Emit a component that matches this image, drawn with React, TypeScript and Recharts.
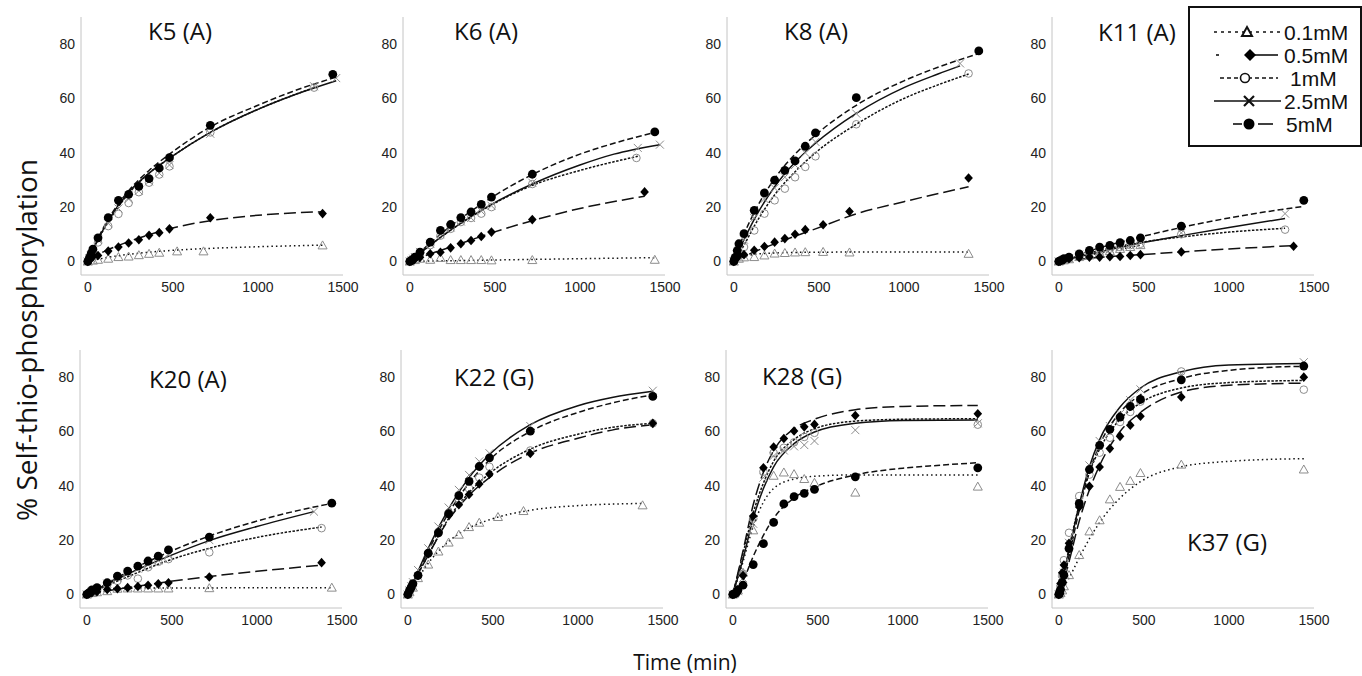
import React from 'react';
import { ComposedChart, Line, Scatter, XAxis, YAxis } from 'recharts';

type Pt = [number, number];

// order of series everywhere: 0.1mM, 0.5mM, 1mM, 2.5mM, 5mM
const CONCS = ['0.1mM', '0.5mM', '1mM', '2.5mM', '5mM'];
const X_TICKS = [0, 500, 1000, 1500];
const Y_TICKS = [0, 20, 40, 60, 80];

// ---- K5 (A)
const K5_PTS: Pt[][] = [
  [[0, 0], [30, 0.3], [60, 0.6], [120, 1], [180, 1.6], [240, 1.8], [300, 2.3], [360, 2.8], [420, 3.2], [525, 3.7], [680, 3.7], [1380, 5.9]],
  [[0, 0], [10, 0.6], [20, 1.2], [30, 1.8], [60, 2.2], [120, 3.8], [180, 5.3], [240, 6.8], [300, 8.0], [360, 9.6], [420, 10.6], [480, 12.0], [720, 16.1], [1380, 17.6]],
  [[0, 0], [10, 1], [20, 2], [30, 3], [60, 7], [120, 13], [180, 17.5], [240, 21.5], [300, 25.5], [360, 29], [420, 32], [480, 35], [720, 47.5], [1330, 64]],
  [[0, 0], [10, 1.2], [20, 2.2], [30, 3.5], [60, 8], [120, 14], [180, 19.5], [240, 23], [300, 26], [360, 29.5], [420, 32.5], [480, 35.5], [720, 47], [1330, 64.5], [1460, 67.5]],
  [[0, 0], [10, 1.5], [20, 3], [30, 4.5], [60, 8.7], [120, 16.1], [180, 22.5], [240, 24.7], [300, 27.6], [360, 30.5], [420, 34.4], [480, 38.2], [720, 50.1], [1440, 68.9]],
];
const K5_FIT: Pt[][] = [
  [[0, 0], [60, 0.8], [120, 1.5], [240, 2.6], [360, 3.4], [480, 4], [720, 4.8], [1000, 5.4], [1380, 6]],
  [[0, 0], [60, 2.5], [120, 4.3], [240, 7.3], [360, 9.8], [480, 12], [720, 15], [1000, 17], [1380, 18.3]],
  [[0, 0], [60, 8], [120, 14.5], [240, 25], [360, 32.5], [480, 38], [720, 47.5], [1000, 56], [1330, 64]],
  [[0, 0], [60, 8], [120, 15], [240, 25.5], [360, 32.5], [480, 38], [720, 47.5], [1000, 56], [1200, 61], [1460, 66.5]],
  [[0, 0], [60, 8.5], [120, 15.5], [240, 26], [360, 33.5], [480, 39.5], [720, 49.5], [1000, 57.5], [1200, 62.5], [1440, 67.5]],
];

// ---- K6 (A)
const K6_PTS: Pt[][] = [
  [[0, 0], [30, 0.5], [60, 1], [120, 0.6], [180, 1.3], [240, 0.5], [300, 0.5], [360, 0.5], [420, 0.5], [480, 0.4], [720, 0.5], [1440, 0.6]],
  [[0, 0], [10, 0.3], [20, 0.6], [30, 1], [60, 1.5], [120, 2.8], [180, 3.4], [240, 5.0], [300, 6.5], [360, 7.7], [420, 9.2], [480, 10.8], [720, 15.4], [1380, 25.6]],
  [[0, 0], [10, 0.5], [20, 1], [30, 1.5], [60, 3], [120, 6], [180, 9.5], [240, 12], [300, 14.5], [360, 16], [420, 17.6], [480, 20], [720, 28.5], [1332, 38.1]],
  [[0, 0], [10, 0.5], [20, 1], [30, 1.6], [60, 3.5], [120, 6.5], [180, 10], [240, 12.5], [300, 14.7], [360, 16], [420, 18.5], [480, 20.5], [720, 29], [1340, 41.8], [1470, 43]],
  [[0, 0], [10, 0.4], [16, 0.6], [30, 1.6], [60, 3.4], [120, 7.1], [180, 11.4], [240, 13.6], [300, 16.1], [360, 18.2], [420, 21], [480, 23.7], [720, 32.1], [1440, 47.7]],
];
const K6_FIT: Pt[][] = [
  [[0, 0], [480, 0.5], [1000, 1], [1440, 1.4]],
  [[0, 0], [120, 2.8], [240, 5.3], [480, 10.5], [720, 15], [1000, 19.5], [1380, 24]],
  [[0, 0], [120, 6], [240, 11.5], [480, 20.8], [720, 28], [1000, 33.5], [1340, 38.7]],
  [[0, 0], [120, 6], [240, 11.5], [360, 16.5], [480, 21], [720, 28.5], [1000, 35.5], [1200, 39.5], [1470, 43]],
  [[0, 0], [120, 6.8], [240, 13], [360, 18.5], [480, 23.5], [720, 32], [1000, 39.5], [1200, 43.5], [1440, 47.5]],
];

// ---- K8 (A)
const K8_PTS: Pt[][] = [
  [[0, 0], [30, 1], [60, 1.5], [120, 1.6], [180, 2.2], [240, 2.9], [300, 3.1], [360, 3.3], [420, 3.4], [525, 3.5], [680, 3.3], [1380, 2.8]],
  [[0, 0], [10, 0.8], [20, 1.5], [30, 2.2], [60, 2.5], [120, 4.1], [180, 5.5], [240, 7.1], [300, 8.4], [360, 10], [420, 11.7], [525, 13.5], [680, 18.4], [1380, 30.7]],
  [[0, 0], [10, 1], [20, 2], [30, 3], [60, 5.3], [120, 11.4], [180, 17.6], [240, 22.5], [300, 26.8], [360, 31], [420, 34.8], [480, 38.7], [720, 50.5], [1380, 69.2]],
  [[0, 0], [10, 1.2], [20, 2.5], [30, 4], [60, 8], [120, 16], [180, 23], [240, 27], [300, 31], [360, 35.5], [420, 40], [480, 44], [720, 54.4], [1330, 72.9]],
  [[0, 0], [5, 1], [10, 1.6], [20, 4], [30, 6.5], [60, 10.2], [120, 18.8], [180, 25.2], [240, 29.9], [300, 33.5], [360, 37], [420, 42.4], [480, 47.3], [720, 60.3], [1440, 77.5]],
];
const K8_FIT: Pt[][] = [
  [[0, 0], [60, 1.8], [120, 2.6], [240, 3.1], [480, 3.4], [1380, 3.5]],
  [[0, 0], [120, 3.5], [240, 6.5], [480, 12], [720, 17.5], [1000, 22], [1380, 27.5]],
  [[0, 0], [60, 6], [120, 13], [240, 24.5], [360, 33], [480, 40], [720, 50.5], [1000, 60], [1200, 65], [1380, 69]],
  [[0, 0], [60, 8], [120, 15.5], [240, 27.5], [360, 36.5], [480, 43.5], [720, 54.5], [1000, 64], [1200, 69], [1330, 72]],
  [[0, 0], [60, 10], [120, 18], [240, 30.5], [360, 39.5], [480, 46.5], [720, 57.5], [1000, 66.5], [1200, 71.5], [1440, 76.5]],
];

// ---- K11 (A)
const K11_PTS: Pt[][] = [
  [[0, 0], [30, 0.4], [60, 0.8], [120, 1.6], [180, 2.2], [240, 3], [300, 3.8], [360, 4.6], [420, 5.3], [480, 6]],
  [[0, 0], [10, 0.2], [30, 0.5], [60, 1], [120, 1.4], [180, 1.6], [240, 1.6], [300, 1.7], [360, 1.8], [420, 2.2], [480, 2.5], [720, 3.5], [1380, 5.6]],
  [[0, 0], [30, 0.5], [60, 1], [120, 2], [180, 3], [240, 3.8], [300, 4.7], [360, 5.3], [420, 6], [480, 6.5], [720, 10], [1330, 11.7]],
  [[0, 0], [30, 0.6], [60, 1.2], [120, 2.5], [180, 3], [240, 4], [300, 4.6], [360, 5.5], [420, 6], [480, 7], [720, 10.5], [1330, 17.6]],
  [[0, 0], [10, 0.3], [20, 0.6], [30, 1], [60, 1.6], [120, 2.8], [180, 4.1], [240, 5.3], [300, 5.9], [360, 6.9], [420, 7.7], [480, 8.7], [720, 13], [1440, 22.5]],
];
const K11_FIT: Pt[][] = [
  [[0, 0], [120, 1.5], [240, 3], [360, 4.5], [480, 6]],
  [[0, 0], [240, 1.5], [480, 2.5], [720, 3.5], [1000, 4.6], [1380, 5.8]],
  [[0, 0], [240, 4], [480, 7], [720, 9], [1000, 10.8], [1330, 12.2]],
  [[0, 0], [240, 3.5], [480, 6.8], [720, 9.5], [1000, 12.5], [1330, 15.8]],
  [[0, 0], [240, 5], [480, 9], [720, 12.5], [1000, 16], [1440, 20.3]],
];

// ---- K20 (A)
const K20_PTS: Pt[][] = [
  [[0, 0], [30, 0.5], [60, 0.8], [120, 1.2], [180, 2.1], [240, 2.2], [300, 2.2], [360, 2.2], [420, 2.2], [480, 2.2], [720, 2.3], [1440, 2.5]],
  [[0, 0], [10, 0.3], [30, 0.6], [60, 1], [120, 1.8], [180, 2.1], [240, 2.5], [300, 2.9], [360, 3.4], [420, 3.9], [480, 4.3], [720, 6.4], [1380, 11.7]],
  [[0, 0], [30, 1], [60, 1.8], [120, 3.5], [180, 5], [240, 7], [300, 5.8], [360, 10], [420, 12], [480, 13], [720, 15.5], [1380, 24.4]],
  [[0, 0], [30, 1], [60, 2], [120, 4], [180, 6], [240, 8], [300, 9.5], [360, 11], [420, 12.5], [480, 14.5], [720, 20], [1335, 30.5]],
  [[0, 0], [10, 0.5], [20, 0.9], [30, 1.7], [60, 2.5], [120, 4.3], [180, 6.7], [240, 8.6], [300, 10.4], [360, 12.3], [420, 14.1], [480, 16.4], [720, 21.1], [1440, 33.6]],
];
const K20_FIT: Pt[][] = [
  [[0, 0], [60, 1.3], [120, 2], [240, 2.3], [720, 2.4], [1440, 2.5]],
  [[0, 0], [240, 2.5], [480, 4.7], [720, 6.6], [1000, 8.5], [1380, 10.8]],
  [[0, 0], [240, 6.5], [480, 12.5], [720, 17], [1000, 21], [1380, 24.8]],
  [[0, 0], [240, 7.5], [480, 14], [720, 19.8], [1000, 25], [1335, 30.5]],
  [[0, 0], [120, 4], [240, 8.3], [480, 15.5], [720, 21.5], [1000, 27], [1200, 30.3], [1440, 33.5]],
];

// ---- K22 (G)
const K22_PTS: Pt[][] = [
  [[0, 0], [10, 0.8], [30, 2.5], [60, 6], [120, 11], [180, 15.8], [240, 19.1], [300, 22], [360, 24.8], [420, 26.4], [530, 28.5], [680, 30.7], [1380, 32.8]],
  [[0, 0], [10, 1], [20, 2], [30, 3.5], [60, 7], [120, 15], [180, 23], [240, 29.5], [300, 33], [360, 36.8], [420, 40.7], [480, 44.3], [720, 51.9], [1440, 63]],
  [[0, 0], [10, 1], [20, 2.2], [30, 3.5], [60, 7], [120, 15], [180, 23], [240, 30], [300, 34], [360, 39], [420, 43], [480, 47], [720, 53], [1440, 63]],
  [[0, 0], [10, 1.5], [20, 3], [30, 4.5], [60, 9], [120, 17], [180, 25], [240, 32], [300, 38.5], [360, 44], [420, 49], [480, 52], [720, 62], [1440, 75]],
  [[0, 0], [10, 1.5], [20, 2.7], [30, 4], [60, 7], [120, 15.2], [180, 22.7], [240, 29.7], [300, 36.4], [360, 41.6], [420, 47.1], [480, 50.3], [720, 60.1], [1440, 72.9]],
];
const K22_FIT: Pt[][] = [
  [[0, 0], [60, 6], [120, 11.5], [240, 19.5], [360, 24.5], [480, 27.5], [720, 31], [1000, 32.7], [1380, 33.5]],
  [[0, 0], [60, 7.5], [120, 14.5], [240, 27.5], [360, 36.5], [480, 43], [720, 52], [1000, 57.5], [1200, 60.5], [1440, 62.5]],
  [[0, 0], [60, 7.5], [120, 14.5], [240, 28], [360, 37.5], [480, 44.5], [720, 53.5], [1000, 59], [1200, 61.5], [1440, 63]],
  [[0, 0], [60, 8.5], [120, 17], [240, 31.5], [360, 43], [480, 51.5], [720, 62.5], [1000, 69.5], [1200, 72.5], [1440, 74.8]],
  [[0, 0], [60, 8], [120, 16], [240, 30], [360, 41], [480, 49.5], [720, 60], [1000, 67], [1200, 70.5], [1440, 73.5]],
];

// ---- K28 (G)
const K28_PTS: Pt[][] = [
  [[0, 0], [10, 0.5], [30, 1.5], [60, 8], [120, 23.6], [240, 43.7], [300, 44.9], [360, 44.3], [420, 42.5], [480, 41.1], [720, 37.5], [1440, 39.7]],
  [[0, 0], [10, 0.3], [20, 0.8], [30, 1.8], [60, 7], [120, 28.9], [180, 46.6], [240, 54.3], [300, 57.4], [360, 60.2], [420, 61.7], [480, 62.6], [720, 65.9], [1440, 66.5]],
  [[0, 0], [10, 0.3], [20, 0.7], [30, 1.5], [60, 7.6], [120, 28], [180, 45.2], [240, 52.1], [300, 54], [360, 56], [420, 58], [480, 59.5], [1440, 62.5]],
  [[0, 0], [10, 0.2], [30, 1.2], [60, 6], [120, 26], [180, 43], [240, 51], [300, 53], [360, 54.5], [420, 55], [480, 56.5], [720, 60.5], [1440, 63]],
  [[0, 0], [10, 0.2], [20, 0.6], [30, 1.6], [60, 3.4], [120, 11], [180, 18.7], [240, 26.5], [300, 33.3], [360, 36], [420, 37.2], [480, 38.7], [720, 43.3], [1440, 46.6]],
];
const K28_FIT: Pt[][] = [
  [[0, 0], [60, 12], [120, 25], [180, 34], [240, 39], [360, 42.5], [480, 43.5], [720, 44], [1440, 44]],
  [[0, 0], [60, 16], [120, 33], [180, 45], [240, 53], [360, 61], [480, 64.5], [720, 68], [1000, 69.2], [1440, 69.6]],
  [[0, 0], [60, 15], [120, 30], [180, 41], [240, 49], [360, 57], [480, 61], [720, 63.8], [1000, 64.5], [1440, 64.7]],
  [[0, 0], [60, 13], [120, 28], [180, 39], [240, 47], [360, 55.5], [480, 59.8], [720, 63], [1000, 64], [1440, 64.2]],
  [[0, 0], [60, 5], [120, 14], [240, 28], [360, 35.5], [480, 39.5], [720, 44], [1000, 46.5], [1200, 47.5], [1440, 48.5]],
];

// ---- K37 (G)
const K37_PTS: Pt[][] = [
  [[0, 0], [10, 0.5], [20, 1.5], [30, 3], [60, 7.1], [120, 14.5], [180, 23.2], [240, 27.3], [300, 35], [360, 39.6], [420, 41.8], [480, 44.7], [720, 47.8], [1440, 46]],
  [[0, 0], [5, 1.5], [10, 4], [20, 8], [30, 10.8], [60, 18.8], [120, 32.2], [180, 39.8], [240, 46.9], [300, 53.7], [360, 58.2], [420, 62.3], [480, 65.6], [720, 72.7], [1440, 80]],
  [[0, 0], [10, 3], [20, 7], [30, 12.6], [60, 22.7], [120, 36.2], [180, 44.1], [240, 52.2], [300, 57.7], [360, 63.5], [420, 67.2], [480, 71], [720, 82.1], [1440, 75.4]],
  [[0, 0], [10, 2], [20, 5], [30, 8], [60, 19], [120, 34], [180, 47.5], [240, 56.5], [300, 62], [360, 66.5], [420, 71.5], [480, 75.5], [720, 81], [1440, 85.5]],
  [[0, 0], [5, 0.4], [10, 1.8], [20, 4.4], [30, 7.1], [60, 16.9], [120, 33.5], [180, 46], [240, 54.9], [300, 60.8], [360, 65.3], [420, 69.2], [480, 71.8], [720, 79], [1440, 84.1]],
];
const K37_FIT: Pt[][] = [
  [[0, 0], [60, 6], [120, 13.5], [180, 20.5], [240, 26.5], [360, 35.5], [480, 41.5], [720, 47], [1000, 49], [1440, 50]],
  [[0, 0], [30, 5], [60, 12], [120, 27], [180, 38.5], [240, 47.5], [360, 60], [480, 67], [720, 74.5], [1000, 77], [1440, 77.8]],
  [[0, 0], [30, 8], [60, 17], [120, 33], [180, 45], [240, 53.5], [360, 64.5], [480, 70.5], [720, 76], [1000, 78], [1440, 78.8]],
  [[0, 0], [30, 7], [60, 16], [120, 33], [180, 47], [240, 57], [360, 69], [480, 76], [720, 82], [1000, 84.5], [1440, 85]],
  [[0, 0], [30, 6], [60, 14], [120, 31], [180, 45], [240, 55], [360, 67], [480, 73.5], [720, 79.5], [1000, 82.5], [1200, 83.5], [1440, 84]],
];

const PANELS = [
  { title: 'K5 (A)', pts: K5_PTS, fit: K5_FIT, axisX: 81, plotTop: 17, titleX: 148, titleY: 32 },
  { title: 'K6 (A)', pts: K6_PTS, fit: K6_FIT, axisX: 403, plotTop: 17, titleX: 454, titleY: 32 },
  { title: 'K8 (A)', pts: K8_PTS, fit: K8_FIT, axisX: 727, plotTop: 17, titleX: 784, titleY: 32 },
  { title: 'K11 (A)', pts: K11_PTS, fit: K11_FIT, axisX: 1052, plotTop: 17, titleX: 1098, titleY: 33 },
  { title: 'K20 (A)', pts: K20_PTS, fit: K20_FIT, axisX: 80, plotTop: 350, titleX: 149, titleY: 380 },
  { title: 'K22 (G)', pts: K22_PTS, fit: K22_FIT, axisX: 401, plotTop: 350, titleX: 454, titleY: 378 },
  { title: 'K28 (G)', pts: K28_PTS, fit: K28_FIT, axisX: 726, plotTop: 350, titleX: 762, titleY: 377 },
  { title: 'K37 (G)', pts: K37_PTS, fit: K37_FIT, axisX: 1052, plotTop: 350, titleX: 1187, titleY: 543 },
];

const DASHES = ['1.5 3', '12 5', '2.5 1.5', undefined, '6 3'];
const GRAY = '#8c8c8c';
const TICK_STYLE = { fill: '#222', fontSize: 14, fontFamily: '"Liberation Sans", Arial, sans-serif' };

// marker drawers
const markTriangle = (p: any) => (
  <path d={`M${p.cx},${p.cy - 4.5}L${p.cx + 4.5},${p.cy + 3.5}L${p.cx - 4.5},${p.cy + 3.5}Z`} fill="none" stroke={GRAY} strokeWidth={1} />
);
const markDiamond = (p: any) => (
  <path d={`M${p.cx},${p.cy - 4.8}L${p.cx + 4.3},${p.cy}L${p.cx},${p.cy + 4.8}L${p.cx - 4.3},${p.cy}Z`} fill="#000" />
);
const markOpenCircle = (p: any) => <circle cx={p.cx} cy={p.cy} r={3.8} fill="none" stroke={GRAY} strokeWidth={1} />;
const markCross = (p: any) => (
  <path d={`M${p.cx - 4},${p.cy - 4}L${p.cx + 4},${p.cy + 4}M${p.cx - 4},${p.cy + 4}L${p.cx + 4},${p.cy - 4}`} stroke={GRAY} strokeWidth={1} />
);
const markDot = (p: any) => <circle cx={p.cx} cy={p.cy} r={4.4} fill="#000" />;
const MARKERS = [markTriangle, markDiamond, markOpenCircle, markCross, markDot];

const toRows = (arr: Pt[]) => arr.map(([t, v]) => ({ t, v }));

function Panel({ p }: { p: (typeof PANELS)[number] }) {
  return (
    <div style={{ position: 'absolute', left: p.axisX - 35, top: p.plotTop - 5 }}>
      <ComposedChart width={322} height={288} margin={{ top: 5, right: 25, bottom: 0, left: 0 }}>
        <XAxis
          type="number"
          dataKey="t"
          domain={[-40, 1500]}
          ticks={X_TICKS}
          interval={0}
          allowDataOverflow
          tickLine={false}
          tickSize={0}
          axisLine={{ stroke: '#c4c4c4' }}
          tick={TICK_STYLE}
          tickMargin={7}
          height={25}
        />
        <YAxis
          type="number"
          dataKey="v"
          domain={[-5, 90]}
          ticks={Y_TICKS}
          interval={0}
          allowDataOverflow
          tickLine={false}
          tickSize={0}
          axisLine={{ stroke: '#c4c4c4' }}
          tick={TICK_STYLE}
          tickMargin={6}
          width={35}
        />
        {p.fit.map((f, i) => (
          <Line
            key={'f' + i}
            data={toRows(f)}
            dataKey="v"
            type="monotone"
            stroke="#111"
            strokeWidth={1.5}
            strokeDasharray={DASHES[i]}
            dot={false}
            activeDot={false}
            isAnimationActive={false}
          />
        ))}
        {[0, 2, 3, 1, 4].map((i) => (
          <Scatter
            key={'s' + i}
            name={CONCS[i]}
            data={toRows(p.pts[i])}
            dataKey="v"
            shape={MARKERS[i]}
            isAnimationActive={false}
          />
        ))}
      </ComposedChart>
    </div>
  );
}

function LegendBox() {
  const rows = [24, 47, 70, 93, 116];
  return (
    <div style={{ position: 'absolute', left: 1188, top: 6, width: 170, height: 137, border: '2px solid #111', background: '#fff' }}>
      <svg width={170} height={137} style={{ position: 'absolute', left: 0, top: 0 }}>
        <line x1={24} x2={90} y1={rows[0]} y2={rows[0]} stroke="#111" strokeWidth={1.6} strokeDasharray="3 4" />
        <path d={`M57,${rows[0] - 5}L62,${rows[0] + 4}L52,${rows[0] + 4}Z`} fill="#fff" stroke="#111" strokeWidth={2} />
        <line x1={26} x2={29} y1={rows[1]} y2={rows[1]} stroke="#111" strokeWidth={1.6} />
        <line x1={60} x2={88} y1={rows[1]} y2={rows[1]} stroke="#111" strokeWidth={1.6} />
        <path d={`M60,${rows[1] - 6}L66,${rows[1]}L60,${rows[1] + 6}L54,${rows[1]}Z`} fill="#000" />
        <line x1={30} x2={88} y1={rows[2]} y2={rows[2]} stroke="#111" strokeWidth={1.6} strokeDasharray="4 3" />
        <circle cx={55} cy={rows[2]} r={4.5} fill="#fff" stroke="#111" strokeWidth={1.6} />
        <line x1={24} x2={91} y1={rows[3]} y2={rows[3]} stroke="#111" strokeWidth={1.6} />
        <path d={`M54,${rows[3] - 5}L64,${rows[3] + 5}M54,${rows[3] + 5}L64,${rows[3] - 5}`} stroke="#111" strokeWidth={2.2} />
        <line x1={43} x2={52} y1={rows[4]} y2={rows[4]} stroke="#111" strokeWidth={1.6} />
        <line x1={68} x2={83} y1={rows[4]} y2={rows[4]} stroke="#111" strokeWidth={1.6} />
        <circle cx={59} cy={rows[4]} r={5.5} fill="#000" />
        {CONCS.map((c, i) => (
          <text key={c} x={c === '1mM' ? 100 : c === '5mM' ? 96 : 94} y={rows[i]} dominantBaseline="central" fontSize={21} fill="#111" fontFamily='"Liberation Sans", Arial, sans-serif'>
            {c}
          </text>
        ))}
      </svg>
    </div>
  );
}

export default function App() {
  const label = { position: 'absolute' as const, fontFamily: '"Open Sans", sans-serif', color: '#111', whiteSpace: 'nowrap' as const, lineHeight: 1 };
  return (
    <div style={{ position: 'absolute', left: 0, top: 0, width: 1362, height: 676, background: '#fff', overflow: 'hidden' }}>
      {PANELS.map((p) => (
        <Panel key={p.title} p={p} />
      ))}
      {PANELS.map((p) => (
        <div key={'t' + p.title} style={{ ...label, left: p.titleX, top: p.titleY - 13, fontSize: 24 }}>
          {p.title}
        </div>
      ))}
      <LegendBox />
      <div style={{ ...label, left: 26, top: 340, fontSize: 28, transform: 'translate(-50%, -50%) rotate(-90deg)' }}>
        % Self-thio-phosphorylation
      </div>
      <div style={{ ...label, left: 685, top: 662, fontSize: 21, transform: 'translate(-50%, -50%)' }}>Time (min)</div>
    </div>
  );
}
